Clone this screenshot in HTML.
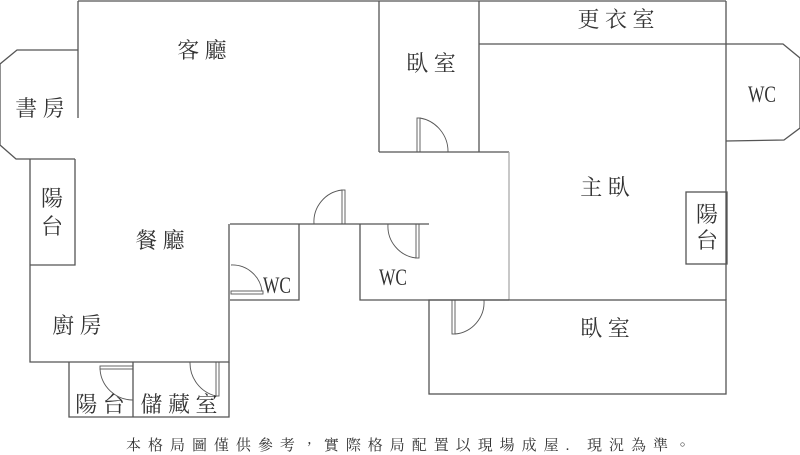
<!DOCTYPE html>
<html><head><meta charset="utf-8"><style>
html,body{margin:0;padding:0;background:#fff;}
svg{display:block;}
text{font-family:"Liberation Serif","Noto Serif CJK TC","Noto Serif CJK SC",serif;fill:#333;}
</style></head><body>
<svg width="800" height="455" viewBox="0 0 800 455" xmlns="http://www.w3.org/2000/svg">
<g fill="none" stroke="#555" stroke-width="1.3">
<line x1="78" y1="1" x2="726" y2="1"/>
<line x1="78" y1="1" x2="78" y2="118"/>
<polyline points="78,50 17,50 0,64 0,145 16,159 75,159"/>
<polyline points="30,159 30,362 229,362 229,224"/>
<polyline points="30,265 75,265 75,159"/>
<polyline points="69,362 69,417 229,417 229,362"/>
<line x1="133" y1="362" x2="133" y2="417"/>
<polyline points="299,224 299,300 230,300"/>
<line x1="230" y1="224" x2="429" y2="224"/>
<line x1="379" y1="1" x2="379" y2="152"/>
<line x1="379" y1="152" x2="509" y2="152"/>
<line x1="509" y1="152" x2="509" y2="300" stroke="#aaa"/>
<polyline points="360,224 360,300 429,300"/>
<line x1="429" y1="300" x2="509" y2="300"/>
<rect x="429" y="300" width="297" height="94"/>
<line x1="479" y1="1" x2="479" y2="152"/>
<line x1="479" y1="44" x2="726" y2="44"/>
<line x1="726" y1="1" x2="726" y2="300"/>
<polyline points="726,44 783,44 800,58 800,128 784,140 726,141"/>
<rect x="686" y="192" width="41" height="72"/>
</g>
<g fill="none" stroke="#555" stroke-width="0.9">
<rect x="417" y="118" width="3" height="34"/>
<path d="M420,118 A34,34 0 0 1 448,152"/>
<rect x="342" y="190" width="3" height="34"/>
<path d="M342,190 A32,32 0 0 0 314,224"/>
<rect x="231" y="291" width="32" height="3"/>
<path d="M231,265 A30,30 0 0 1 262,291"/>
<rect x="416" y="224" width="3" height="34"/>
<path d="M416,258 A32,32 0 0 1 388,224"/>
<rect x="452" y="300" width="3" height="34"/>
<path d="M455,334 A32,32 0 0 0 484,300"/>
<rect x="100" y="366" width="33" height="3"/>
<path d="M100,369 A33,33 0 0 0 133,400"/>
<rect x="216" y="362" width="3" height="34"/>
<path d="M216,396 A34,34 0 0 1 190,362"/>
</g>
<g font-size="22" text-anchor="middle">
<text x="202" y="58">客 廳</text>
<text x="40" y="116">書 房</text>
<text x="52" y="206">陽</text>
<text x="52" y="234">台</text>
<text x="160" y="248">餐 廳</text>
<text x="77" y="333">廚 房</text>
<text x="100" y="412">陽 台</text>
<text x="179" y="412">儲 藏 室</text>
<text x="431" y="71">臥 室</text>
<text x="616" y="27">更 衣 室</text>
<text x="605" y="195">主 臥</text>
<text x="707" y="222">陽</text>
<text x="707" y="248">台</text>
<text x="605" y="336">臥 室</text>
</g>
<g font-size="23" text-anchor="middle">
<text x="277" y="293" textLength="28" lengthAdjust="spacingAndGlyphs">WC</text>
<text x="393" y="285" textLength="28" lengthAdjust="spacingAndGlyphs">WC</text>
<text x="762" y="102" textLength="28" lengthAdjust="spacingAndGlyphs">WC</text>
</g>
<text x="126" y="450" font-size="15" textLength="564" lengthAdjust="spacing">本格局圖僅供參考，實際格局配置以現場成屋. 現況為準。</text>
</svg>
</body></html>
